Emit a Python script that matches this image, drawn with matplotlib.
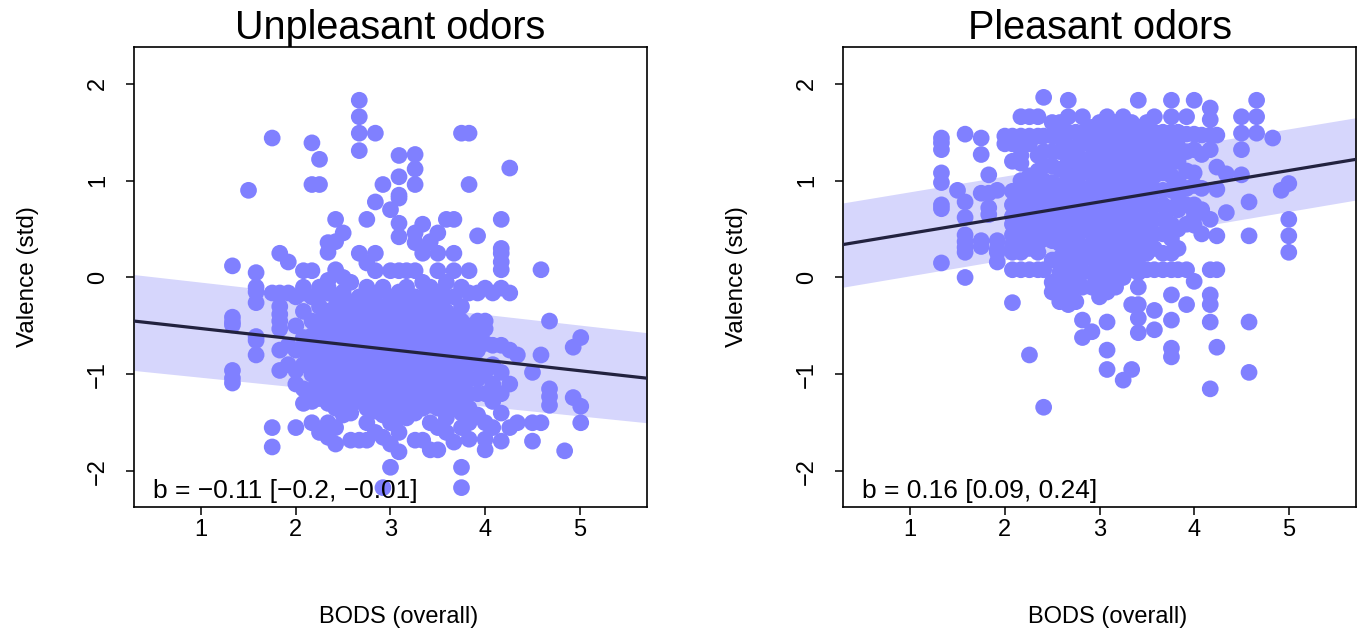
import matplotlib
matplotlib.use("Agg")
import matplotlib.pyplot as plt
import numpy as np

plt.rcParams['font.family'] = ['Liberation Sans', 'DejaVu Sans']

# ---------------- data ----------------
# Unpleasant odors: x column -> list of valence values
unpleasant_cols = {
    1.33: [0.12, -0.41, -0.46, -0.49, -0.96, -1.04, -1.09],
    1.50: [0.90],
    1.58: [0.05, -0.10, -0.15, -0.26, -0.61, -0.65, -0.80],
    1.75: [1.44, -0.16, -1.55, -1.75],
    1.83: [0.25, -0.16, -0.30, -0.38, -0.45, -0.53, -0.75, -0.96],
    1.92: [0.16, -0.16, -0.70, -0.90],
    2.00: [-0.20, -0.50, -0.75, -0.96, -1.10, -1.55],
    2.08: [0.07, -0.10, -0.16, -0.35, -0.62, -0.75, -0.90, -1.15, -1.30],
    2.17: [1.39, 0.96, 0.07, -0.20, -0.45, -0.60, -0.70, -0.85, -1.00, -1.16, -1.28, -1.50],
    2.25: [1.22, 0.96, -0.10, -0.16, -0.30, -0.45, -0.55, -0.68, -0.80, -0.95, -1.10, -1.25, -1.60],
    2.34: [0.36, 0.26, -0.03, -0.10, -0.16, -0.35, -0.47, -0.60, -0.72, -0.85, -1.00, -1.15, -1.30, -1.50, -1.65],
    2.42: [0.60, 0.37, 0.08, -0.20, -0.30, -0.42, -0.55, -0.70, -0.80, -0.95, -1.05, -1.20, -1.35, -1.55, -1.72],
    2.50: [0.46, 0.00, -0.15, -0.30, -0.45, -0.60, -0.75, -0.90, -1.00, -1.15, -1.30, -1.42],
    2.58: [-0.05, -0.25, -0.40, -0.55, -0.65, -0.80, -0.95, -1.10, -1.25, -1.40, -1.68],
    2.67: [1.83, 1.66, 1.49, 1.31, 0.25, -0.20, -0.35, -0.50, -0.62, -0.75, -0.88, -1.00, -1.15, -1.28, -1.68],
    2.75: [0.60, 0.15, -0.10, -0.25, -0.40, -0.50, -0.65, -0.80, -0.92, -1.05, -1.20, -1.35, -1.50, -1.68],
    2.84: [1.49, 0.78, 0.25, 0.07, -0.18, -0.30, -0.45, -0.60, -0.72, -0.85, -0.98, -1.10, -1.25, -1.38, -1.60],
    2.92: [0.96, -0.10, -0.30, -0.42, -0.55, -0.70, -0.82, -0.95, -1.08, -1.20, -1.30, -1.42, -1.65, -2.17],
    3.00: [0.70, 0.07, -0.20, -0.35, -0.50, -0.62, -0.75, -0.88, -1.00, -1.12, -1.25, -1.35, -1.50, -1.72, -1.96],
    3.09: [1.26, 1.04, 0.85, 0.82, 0.56, 0.42, 0.07, -0.15, -0.30, -0.45, -0.55, -0.70, -0.82, -0.95, -1.10, -1.20, -1.30, -1.45, -1.60, -1.80],
    3.17: [0.07, -0.10, -0.25, -0.40, -0.55, -0.68, -0.80, -0.92, -1.05, -1.18, -1.30, -1.45],
    3.26: [1.27, 1.12, 0.96, 0.46, 0.36, 0.07, -0.20, -0.35, -0.50, -0.62, -0.75, -0.88, -1.00, -1.15, -1.28, -1.40, -1.68],
    3.34: [0.55, 0.25, -0.05, -0.20, -0.35, -0.45, -0.60, -0.72, -0.85, -1.00, -1.10, -1.25, -1.35, -1.68],
    3.42: [0.37, -0.10, -0.25, -0.40, -0.55, -0.68, -0.80, -0.95, -1.08, -1.20, -1.32, -1.50, -1.78],
    3.50: [0.46, 0.25, 0.07, -0.15, -0.30, -0.45, -0.58, -0.70, -0.85, -0.98, -1.10, -1.22, -1.35, -1.55, -1.78],
    3.59: [0.60, -0.05, -0.20, -0.35, -0.50, -0.65, -0.78, -0.90, -1.05, -1.18, -1.30, -1.45, -1.60],
    3.67: [0.60, 0.25, 0.07, -0.20, -0.40, -0.55, -0.68, -0.82, -0.95, -1.10, -1.22, -1.35, -1.70],
    3.75: [1.49, -0.10, -0.30, -0.45, -0.60, -0.72, -0.85, -1.00, -1.12, -1.25, -1.40, -1.55, -1.96, -2.17],
    3.83: [1.49, 0.96, 0.07, -0.16, -0.50, -0.62, -0.75, -0.90, -1.05, -1.20, -1.35, -1.50, -1.67],
    3.92: [0.43, -0.16, -0.45, -0.60, -0.75, -0.90, -1.05, -1.20, -1.42],
    4.00: [-0.11, -0.45, -0.53, -0.68, -0.98, -1.20, -1.50, -1.67, -1.78],
    4.08: [-0.16, -0.70, -0.90, -1.10, -1.28, -1.55],
    4.17: [0.60, 0.30, 0.25, 0.16, 0.08, -0.11, -0.70, -0.98, -1.20, -1.40, -1.69],
    4.26: [1.13, -0.16, -0.75, -1.10, -1.55],
    4.34: [-0.80, -1.50],
    4.50: [-0.98, -1.50, -1.69],
    4.59: [0.08, -0.80, -1.50],
    4.68: [-0.45, -1.15, -1.23, -1.32],
    4.84: [-1.79],
    4.93: [-0.72, -1.24],
    5.01: [-0.62, -1.33, -1.50],
}

pleasant_cols = {
    1.33: [1.44, 1.39, 1.32, 1.08, 0.98, 0.75, 0.71, 0.15],
    1.50: [0.90],
    1.58: [1.48, 0.78, 0.62, 0.44, 0.37, 0.31, 0.26, 0.00],
    1.75: [1.44, 1.27, 0.87, 0.38, 0.32],
    1.83: [1.06, 0.87, 0.72, 0.65],
    1.92: [0.90, 0.38, 0.29, 0.26, 0.16],
    2.00: [1.46, 1.38],
    2.08: [1.46, 1.38, 1.20, 0.89, 0.75, 0.63, 0.55, 0.44, 0.34, 0.26, 0.08, -0.26],
    2.17: [1.66, 1.46, 1.38, 1.26, 1.18, 1.00, 0.85, 0.70, 0.55, 0.42, 0.26, 0.08],
    2.26: [1.66, 1.46, 1.38, 1.05, 0.90, 0.75, 0.60, 0.45, 0.30, 0.08, -0.80],
    2.35: [1.66, 1.46, 1.26, 1.10, 0.95, 0.80, 0.65, 0.50, 0.35, 0.26, 0.08],
    2.41: [1.86, 1.46, 1.30, 1.15, 1.00, 0.85, 0.70, 0.55, 0.40, 0.08, -1.34],
    2.50: [1.60, 1.46, 1.30, 1.15, 0.98, 0.82, 0.68, 0.52, 0.38, 0.18, -0.05, -0.15],
    2.58: [1.60, 1.45, 1.30, 1.12, 0.95, 0.80, 0.65, 0.50, 0.35, 0.20, 0.05, -0.10, -0.25],
    2.67: [1.83, 1.66, 1.50, 1.35, 1.20, 1.05, 0.90, 0.75, 0.60, 0.45, 0.30, 0.15, 0.00, -0.15, -0.28],
    2.75: [1.50, 1.35, 1.20, 1.05, 0.90, 0.75, 0.60, 0.45, 0.30, 0.15, 0.00, -0.10, -0.25],
    2.82: [1.66, 1.50, 1.38, 1.22, 1.08, 0.92, 0.78, 0.62, 0.48, 0.32, 0.18, 0.05, -0.10, -0.44, -0.62],
    2.92: [1.55, 1.40, 1.25, 1.10, 0.95, 0.80, 0.65, 0.50, 0.35, 0.20, 0.05, -0.10, -0.56],
    3.00: [1.60, 1.45, 1.30, 1.15, 1.00, 0.85, 0.70, 0.55, 0.40, 0.25, 0.10, -0.05, -0.20],
    3.08: [1.66, 1.50, 1.35, 1.20, 1.05, 0.90, 0.75, 0.60, 0.45, 0.30, 0.15, 0.00, -0.15, -0.46, -0.75, -0.95],
    3.17: [1.60, 1.45, 1.30, 1.15, 1.00, 0.85, 0.70, 0.55, 0.40, 0.25, 0.08, -0.10],
    3.25: [1.66, 1.50, 1.35, 1.20, 1.05, 0.90, 0.75, 0.60, 0.45, 0.30, 0.15, 0.00, -1.06],
    3.34: [1.60, 1.45, 1.30, 1.15, 1.00, 0.85, 0.70, 0.55, 0.40, 0.25, 0.08, -0.28, -0.95],
    3.41: [1.83, 1.55, 1.40, 1.25, 1.10, 0.95, 0.80, 0.65, 0.50, 0.35, 0.20, 0.05, -0.10, -0.28, -0.42, -0.57],
    3.50: [1.60, 1.45, 1.30, 1.15, 1.00, 0.85, 0.70, 0.55, 0.40, 0.25, 0.08],
    3.58: [1.66, 1.50, 1.35, 1.20, 1.05, 0.90, 0.75, 0.60, 0.45, 0.30, 0.08, -0.34, -0.54],
    3.67: [1.50, 1.38, 1.22, 1.08, 0.90, 0.75, 0.60, 0.45, 0.25, 0.08],
    3.76: [1.83, 1.66, 1.50, 1.35, 1.20, 1.05, 0.90, 0.72, 0.55, 0.40, 0.25, 0.08, -0.18, -0.44, -0.73, -0.82],
    3.83: [1.50, 1.35, 1.20, 1.00, 0.85, 0.70, 0.50, 0.30, 0.08],
    3.92: [1.66, 1.48, 1.30, 1.10, 0.92, 0.75, 0.55, 0.08, -0.28],
    4.00: [1.83, 1.48, 1.32, 1.08, 0.95, 0.75, 0.68, 0.62, 0.54, -0.04],
    4.08: [1.47, 1.27, 0.92, 0.70, 0.45],
    4.17: [1.75, 1.63, 1.47, 1.32, 0.60, 0.08, -0.18, -0.28, -0.46, -1.15],
    4.24: [1.47, 1.14, 0.91, 0.43, 0.08, -0.72],
    4.34: [1.07, 0.67],
    4.50: [1.66, 1.49, 1.32, 1.06],
    4.58: [0.78, 0.43, -0.46, -0.98],
    4.66: [1.83, 1.66, 1.49],
    4.83: [1.44],
    4.92: [0.90],
    5.00: [0.97, 0.60, 0.43, 0.26],
}

titles = ["Unpleasant odors", "Pleasant odors"]
annotations = ["b = \u22120.11 [\u22120.2, \u22120.01]", "b = 0.16 [0.09, 0.24]"]

# regression line and band at the x-range ends
line_x = [0.29, 5.71]
line_y_unp = [-0.45, -1.04]
band_lo_unp = [-0.96, -1.50]
band_hi_unp = [0.03, -0.57]
line_y_ple = [0.34, 1.22]
band_lo_ple = [-0.10, 0.80]
band_hi_ple = [0.77, 1.65]

xticks = [1, 2, 3, 4, 5]
yticks = [-2, -1, 0, 1, 2]

# ---------------- plotting ----------------
PT_COLOR = "#8080FF"
BAND_COLOR = "#D6D6FC"
LINE_COLOR = "#22223F"

W, H = 1359, 632
fig = plt.figure(figsize=(W / 100, H / 100), dpi=100)

ax_rects = [
    (134 / W, 1 - 507 / H, 513 / W, 460 / H),
    (843 / W, 1 - 507 / H, 513 / W, 460 / H),
]

panels = [
    (unpleasant_cols, line_y_unp, band_lo_unp, band_hi_unp),
    (pleasant_cols, line_y_ple, band_lo_ple, band_hi_ple),
]

for i, (cols, ly, blo, bhi) in enumerate(panels):
    ax = fig.add_axes(ax_rects[i])
    xs, ys = [], []
    for xv, yl in cols.items():
        for yv in yl:
            xs.append(xv)
            ys.append(yv)
    ax.fill_between(line_x, blo, bhi, color=BAND_COLOR, lw=0, zorder=1)
    ax.scatter(xs, ys, s=145, color=PT_COLOR, edgecolors='none', zorder=2)
    ax.plot(line_x, ly, color=LINE_COLOR, lw=2.3, zorder=3, solid_capstyle='butt')

    ax.set_xlim(0.29, 5.71)
    ax.set_ylim(-2.37, 2.38)
    ax.set_xticks(xticks)
    ax.set_yticks(yticks)
    ax.set_xticklabels([str(t) for t in xticks], fontsize=17)
    ax.set_yticklabels(["\u2212" + str(-t) if t < 0 else str(t) for t in yticks],
                       fontsize=17, rotation=90, va='center')
    ax.tick_params(axis='both', direction='out', length=6, width=1.1, color='black')
    ax.tick_params(axis='x', pad=3)
    ax.tick_params(axis='y', pad=12)
    for sp in ax.spines.values():
        sp.set_linewidth(1.2)

    ax.set_title(titles[i], fontsize=28.5, pad=3)
    ax.set_xlabel("BODS (overall)", fontsize=17)
    ax.set_ylabel("Valence (std)", fontsize=17.5)
    ax.xaxis.set_label_coords(0.515, -0.215)
    ax.yaxis.set_label_coords(-0.185, 0.5)

    ax.text(0.49, -2.2, annotations[i], fontsize=19, ha='left', va='center', zorder=4)

fig.savefig("out.png", dpi=100)
